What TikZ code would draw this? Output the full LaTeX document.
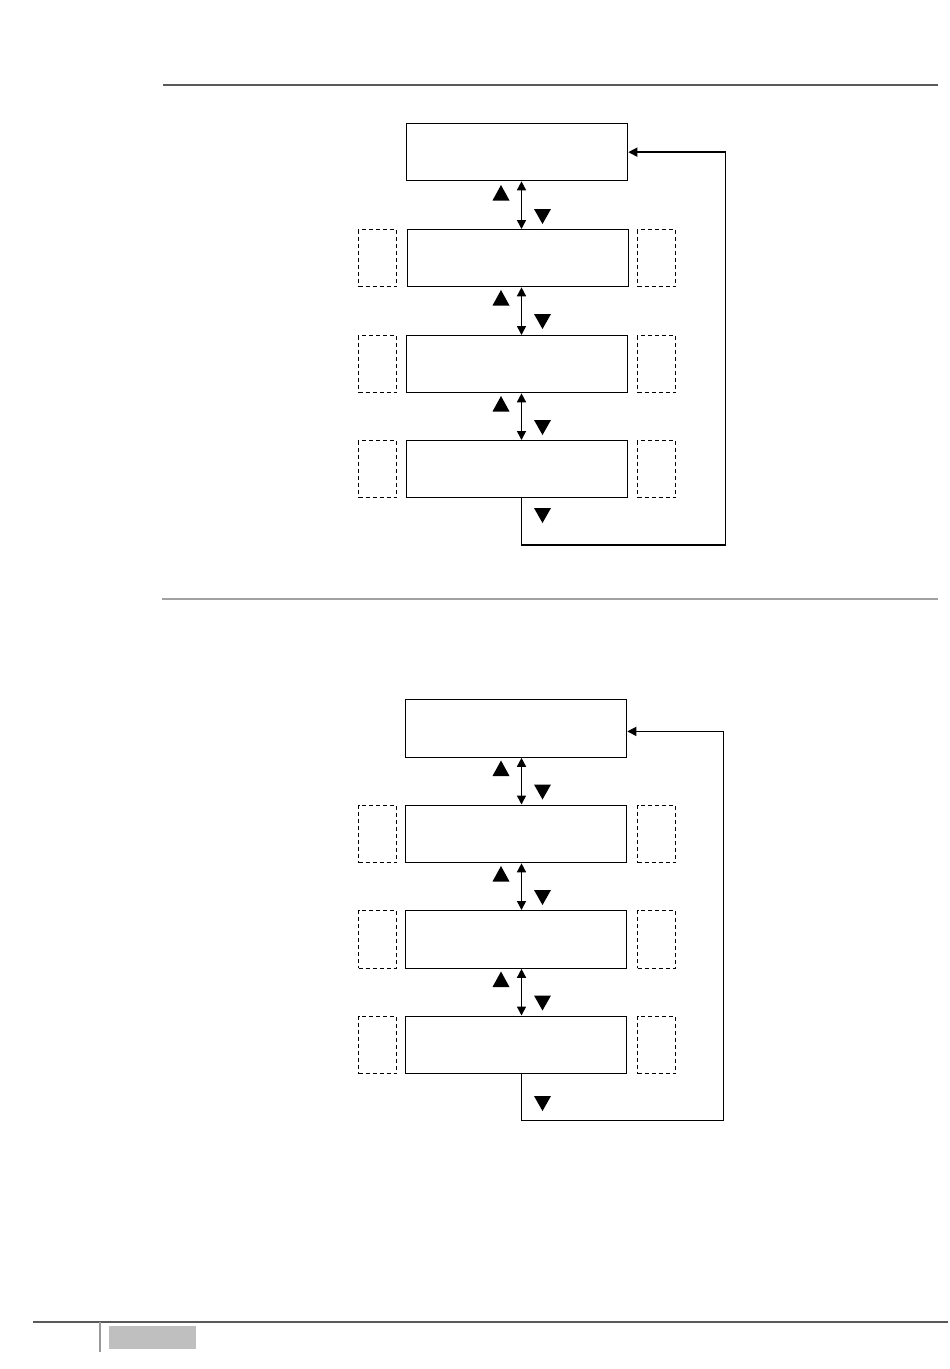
\documentclass[tikz,border=0pt]{standalone}
\usetikzlibrary{arrows.meta}
\begin{document}
\begin{tikzpicture}[x=1pt,y=-1pt,
  mainbox/.style={draw,line width=1.3pt,minimum width=221pt,minimum height=57pt,inner sep=0pt,anchor=north west},
  sidebox/.style={draw,dashed,dash pattern=on 4pt off 3pt,line width=1pt,minimum width=38pt,minimum height=57pt,inner sep=0pt,anchor=north west},
  link/.style={line width=1.5pt,{Triangle[length=9pt,width=9pt]}-{Triangle[length=9pt,width=9pt]}},
  loopline/.style={line width=1.5pt,-{Triangle[length=9pt,width=9pt]}},
  glyph/.style={fill=black},
  rulea/.style={draw=black!65,line width=1.6pt},
  ruleb/.style={draw=black!37,line width=2pt}]
\useasboundingbox (0,0) rectangle (950,1369);
% rules
\draw[rulea] (163,85) -- (938,85);
\draw[ruleb] (162,599) -- (938,599);
\draw[rulea] (33,1322) -- (948,1322);
\draw[draw=black!40,line width=1.5pt] (100,1322) -- (100,1352);
\fill[black!25] (109,1326) rectangle (196,1349);
% ---------- section A ----------
\coordinate (ax) at (521.5,0);
\node[mainbox] (a1) at (406,123) {};
\node[mainbox] (a2) at (407,229) {};
\node[mainbox] (a3) at (406,335) {};
\node[mainbox] (a4) at (406,440) {};
\foreach \t/\n in {229/2,335/3,440/4}{
  \node[sidebox] (al\n) at (358,\t) {};
  \node[sidebox] (ar\n) at (637,\t) {};
}
\draw[link] (a1.south -| ax) -- (a2.north -| ax);
\draw[link] (a2.south -| ax) -- (a3.north -| ax);
\draw[link] (a3.south -| ax) -- (a4.north -| ax);
\foreach \g in {181,286,392}{
  \fill[glyph] (501,\g+4) -- (509.5,\g+19.5) -- (492.5,\g+19.5) -- cycle;
  \fill[glyph] (534,\g+28) -- (551,\g+28) -- (542.5,\g+43) -- cycle;
}
\fill[glyph] (534,508) -- (551,508) -- (542.5,523) -- cycle;
\coordinate (acorner) at (725.7,545);
\draw[loopline] (a4.south -| ax) |- (acorner) |- (a1.east);
% ---------- section B ----------
\node[mainbox,minimum height=57.5pt] (b1) at (405,699) {};
\node[mainbox,minimum height=57.5pt] (b2) at (405,804.5) {};
\node[mainbox,minimum height=57.5pt] (b3) at (405,910) {};
\node[mainbox,minimum height=57.5pt] (b4) at (405,1015.5) {};
\foreach \t/\n in {804.5/2,910/3,1015.5/4}{
  \node[sidebox,minimum height=57.5pt] (bl\n) at (358,\t) {};
  \node[sidebox,minimum height=57.5pt] (br\n) at (637,\t) {};
}
\draw[link] (b1.south -| ax) -- (b2.north -| ax);
\draw[link] (b2.south -| ax) -- (b3.north -| ax);
\draw[link] (b3.south -| ax) -- (b4.north -| ax);
\foreach \g in {756.5,862,967.5}{
  \fill[glyph] (501,\g+4) -- (509.5,\g+19.5) -- (492.5,\g+19.5) -- cycle;
  \fill[glyph] (534,\g+28) -- (551,\g+28) -- (542.5,\g+43) -- cycle;
}
\fill[glyph] (534,1096) -- (551,1096) -- (542.5,1111) -- cycle;
\coordinate (bcorner) at (723.3,1120.7);
\draw[loopline] (b4.south -| ax) |- (bcorner) |- ([yshift=-3pt]b1.east);
\end{tikzpicture}
\end{document}
